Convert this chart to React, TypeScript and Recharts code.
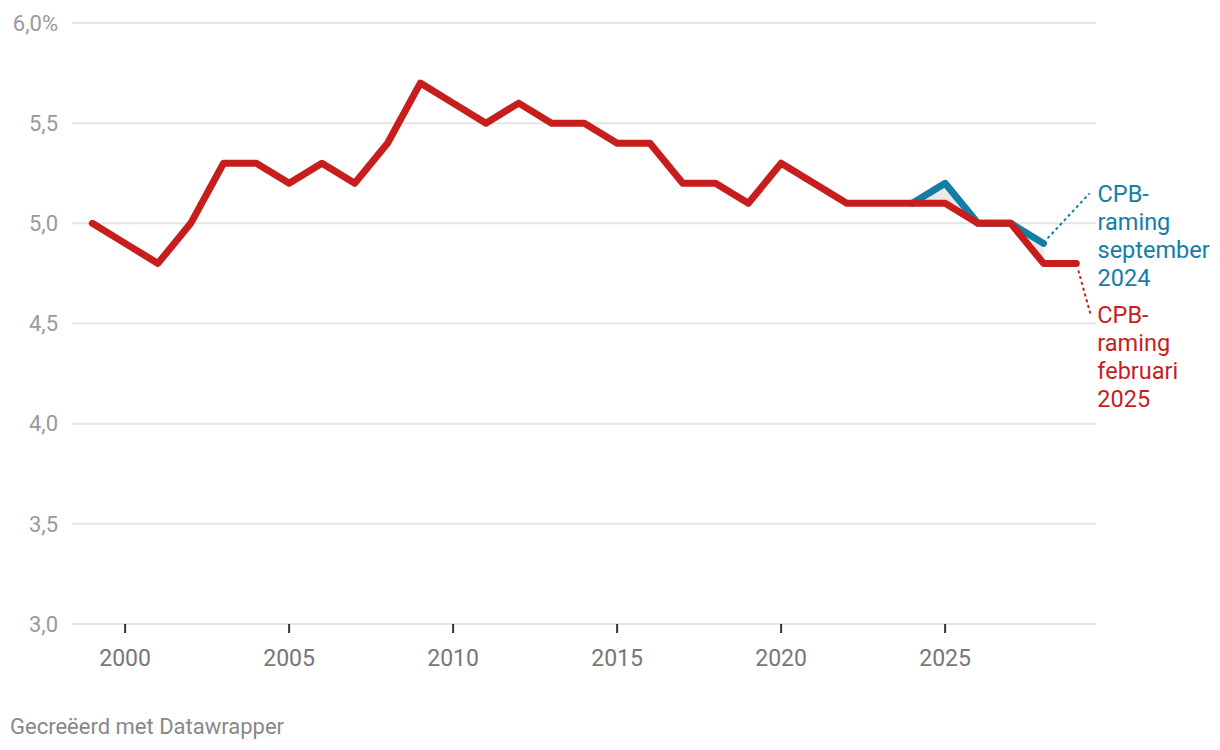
import React from "react";
import {
  ComposedChart,
  Line,
  Area,
  XAxis,
  YAxis,
  CartesianGrid,
  LabelList,
} from "recharts";

const years = [
  1999, 2000, 2001, 2002, 2003, 2004, 2005, 2006, 2007, 2008, 2009, 2010, 2011,
  2012, 2013, 2014, 2015, 2016, 2017, 2018, 2019, 2020, 2021, 2022, 2023, 2024,
  2025, 2026, 2027, 2028, 2029,
];
const febValues = [
  5.0, 4.9, 4.8, 5.0, 5.3, 5.3, 5.2, 5.3, 5.2, 5.4, 5.7, 5.6, 5.5, 5.6, 5.5, 5.5,
  5.4, 5.4, 5.2, 5.2, 5.1, 5.3, 5.2, 5.1, 5.1, 5.1, 5.1, 5.0, 5.0, 4.8, 4.8,
];
const sepValues: (number | null)[] = [
  null, null, null, null, null, null, null, null, null, null, null, null, null,
  null, null, null, null, null, null, null, null, null, null, null, null, 5.1,
  5.2, 5.0, 5.0, 4.9, null,
];
const xTicks = [2000, 2005, 2010, 2015, 2020, 2025];
const yTicks = [3.0, 3.5, 4.0, 4.5, 5.0, 5.5, 6.0];
const sepLabel = ["CPB-", "raming", "september", "2024"];
const febLabel = ["CPB-", "raming", "februari", "2025"];

const RED = "#c71e1d";
const BLUE = "#137ea5";
const FONT = "Roboto, 'Noto Sans', sans-serif";

const data = years.map((year, i) => {
  const f = febValues[i];
  const s = sepValues[i];
  return {
    year,
    feb: f,
    sep: s,
    range: s == null ? null : [Math.min(f, s), Math.max(f, s)],
  };
});

const lastSep = sepValues.reduce(
  (acc: number, v, i) => (v != null ? i : acc),
  -1
);
const lastFeb = febValues.length - 1;

const yFmt = (v: number) =>
  v === 6 ? "6,0%" : v.toFixed(1).replace(".", ",");

const SepLabel = (props: any) => {
  const { x, y, index } = props;
  if (index !== lastSep || x == null || y == null) return null;
  return (
    <g>
      <line
        x1={x + 4}
        y1={y - 5}
        x2={x + 46}
        y2={y - 50}
        stroke={BLUE}
        strokeWidth={2}
        strokeDasharray="3 3"
      />
      <text
        x={x + 54}
        y={y - 41}
        fill={BLUE}
        fontSize={23.5}
        fontFamily={FONT}
      >
        {sepLabel.map((t, i) => (
          <tspan key={i} x={x + 54} dy={i === 0 ? 0 : 28}>
            {t}
          </tspan>
        ))}
      </text>
    </g>
  );
};

const FebLabel = (props: any) => {
  const { x, y, index } = props;
  if (index !== lastFeb || x == null || y == null) return null;
  return (
    <g>
      <line
        x1={x + 2}
        y1={y + 7}
        x2={x + 14}
        y2={y + 50}
        stroke={RED}
        strokeWidth={2}
        strokeDasharray="3 3"
      />
      <text x={x + 21} y={y + 60} fill={RED} fontSize={23.5} fontFamily={FONT}>
        {febLabel.map((t, i) => (
          <tspan key={i} x={x + 21} dy={i === 0 ? 0 : 28}>
            {t}
          </tspan>
        ))}
      </text>
    </g>
  );
};

export default function App() {
  return (
    <div
      style={{
        position: "absolute",
        left: 0,
        top: 0,
        width: 1220,
        height: 750,
        background: "#fff",
        fontFamily: FONT,
      }}
    >
      <ComposedChart
        width={1220}
        height={750}
        data={data}
        margin={{ top: 23, right: 124, bottom: 86, left: 0 }}
      >
        <CartesianGrid
          vertical={false}
          stroke="#e5e5e5"
          strokeWidth={2}
        />
        <XAxis
          dataKey="year"
          type="number"
          domain={[1998.38, 2029.6]}
          allowDataOverflow
          ticks={xTicks}
          axisLine={false}
          tickLine={{ stroke: "#333", strokeWidth: 2 }}
          tickSize={9}
          tickMargin={17}
          height={40}
          tick={{ fill: "#777", fontSize: 23, fontFamily: FONT }}
        />
        <YAxis
          type="number"
          domain={[3, 6]}
          ticks={yTicks}
          width={72}
          axisLine={false}
          tickLine={false}
          tickSize={0}
          tickMargin={14}
          tickFormatter={yFmt}
          tick={{ fill: "#9a9a9a", fontSize: 22, fontFamily: FONT }}
        />
        <Area
          dataKey="range"
          stroke="none"
          fill="#e9e9e9"
          fillOpacity={1}
          isAnimationActive={false}
          connectNulls={false}
          activeDot={false}
        />
        <Line
          dataKey="sep"
          stroke={BLUE}
          strokeWidth={7}
          dot={false}
          activeDot={false}
          strokeLinecap="round"
          strokeLinejoin="round"
          isAnimationActive={false}
        >
          <LabelList dataKey="sep" content={SepLabel} />
        </Line>
        <Line
          dataKey="feb"
          stroke={RED}
          strokeWidth={7}
          dot={false}
          activeDot={false}
          strokeLinecap="round"
          strokeLinejoin="round"
          isAnimationActive={false}
        >
          <LabelList dataKey="feb" content={FebLabel} />
        </Line>
      </ComposedChart>
      <div
        style={{
          position: "absolute",
          left: 10,
          top: 715,
          fontSize: 22,
          lineHeight: "24px",
          color: "#888",
          fontFamily: FONT,
        }}
      >
        Gecreëerd met Datawrapper
      </div>
    </div>
  );
}
